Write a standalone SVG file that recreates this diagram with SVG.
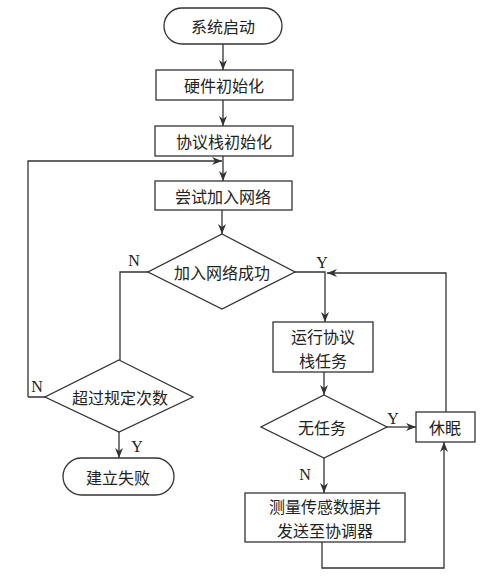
<svg xmlns="http://www.w3.org/2000/svg" width="489" height="577" viewBox="0 0 489 577">
<style>
.s{fill:#fff;stroke:#333;stroke-width:1.3}
.t{font-family:"Noto Sans CJK SC","Noto Sans",sans-serif;font-size:16px;fill:#222;text-anchor:middle;dominant-baseline:central}
.l{font-family:"Liberation Serif",serif;font-size:16px;fill:#222;text-anchor:middle;dominant-baseline:central}
.c{fill:none;stroke:#333;stroke-width:1.3}
</style>
<defs>
<marker id="a" viewBox="0 0 10 10" refX="10" refY="5" markerWidth="10" markerHeight="10" markerUnits="userSpaceOnUse" orient="auto">
<path d="M0,1 L10,5 L0,9 L3,5 Z" fill="#333"/>
</marker>
</defs>
<g id="connectors">
<path class="c" d="M223,44 V70" marker-end="url(#a)"/>
<path class="c" d="M223,100 V126" marker-end="url(#a)"/>
<path class="c" d="M223,156 V181" marker-end="url(#a)"/>
<path class="c" d="M28,397 H45 M28,397 V161 H222" marker-end="url(#a)"/>
<path class="c" d="M222,210 V234" marker-end="url(#a)"/>
<path class="c" d="M148,272 H120 V360"/>
<path class="c" d="M295,272 H325 V322" marker-end="url(#a)"/>
<path class="c" d="M324,372 V395" marker-end="url(#a)"/>
<path class="c" d="M387,427 H416" marker-end="url(#a)"/>
<path class="c" d="M446,412 V273 H327" marker-end="url(#a)"/>
<path class="c" d="M324,458 V493" marker-end="url(#a)"/>
<path class="c" d="M322,542 V568 H444 V442" marker-end="url(#a)"/>
<path class="c" d="M119,432 V458" marker-end="url(#a)"/>
<text class="l" x="134" y="260">N</text>
<text class="l" x="322" y="262">Y</text>
<text class="l" x="37" y="386">N</text>
<text class="l" x="137" y="446">Y</text>
<text class="l" x="393" y="418">Y</text>
<text class="l" x="305" y="474">N</text>
</g>
<g id="start"><rect class="s" x="164" y="8" width="118" height="36" rx="18"/><text class="t" x="223" y="26">系统启动</text></g>
<g id="hwinit"><rect class="s" x="156" y="70" width="137" height="30"/><text class="t" x="224" y="85">硬件初始化</text></g>
<g id="stackinit"><rect class="s" x="155" y="126" width="138" height="30"/><text class="t" x="224" y="141">协议栈初始化</text></g>
<g id="tryjoin"><rect class="s" x="155" y="181" width="137" height="29"/><text class="t" x="223" y="195.5">尝试加入网络</text></g>
<g id="joinok"><polygon class="s" points="222,234 295,272 222,309 148,272"/><text class="t" x="222" y="272">加入网络成功</text></g>
<g id="exceed"><polygon class="s" points="119,360 193,397 119,432 45,397"/><text class="t" x="120" y="397">超过规定次数</text></g>
<g id="fail"><rect class="s" x="63" y="458" width="111" height="37" rx="18.5"/><text class="t" x="118" y="476.5">建立失败</text></g>
<g id="runstack"><rect class="s" x="273" y="322" width="100" height="50"/><text class="t" x="323" y="336">运行协议</text><text class="t" x="323" y="360">栈任务</text></g>
<g id="notask"><polygon class="s" points="324,395 387,427 324,458 261,427"/><text class="t" x="322" y="427">无任务</text></g>
<g id="sleep"><rect class="s" x="416" y="412" width="59" height="30"/><text class="t" x="445" y="427">休眠</text></g>
<g id="measure"><rect class="s" x="245" y="493" width="160" height="49"/><text class="t" x="325" y="506">测量传感数据并</text><text class="t" x="325" y="530">发送至协调器</text></g>
</svg>
